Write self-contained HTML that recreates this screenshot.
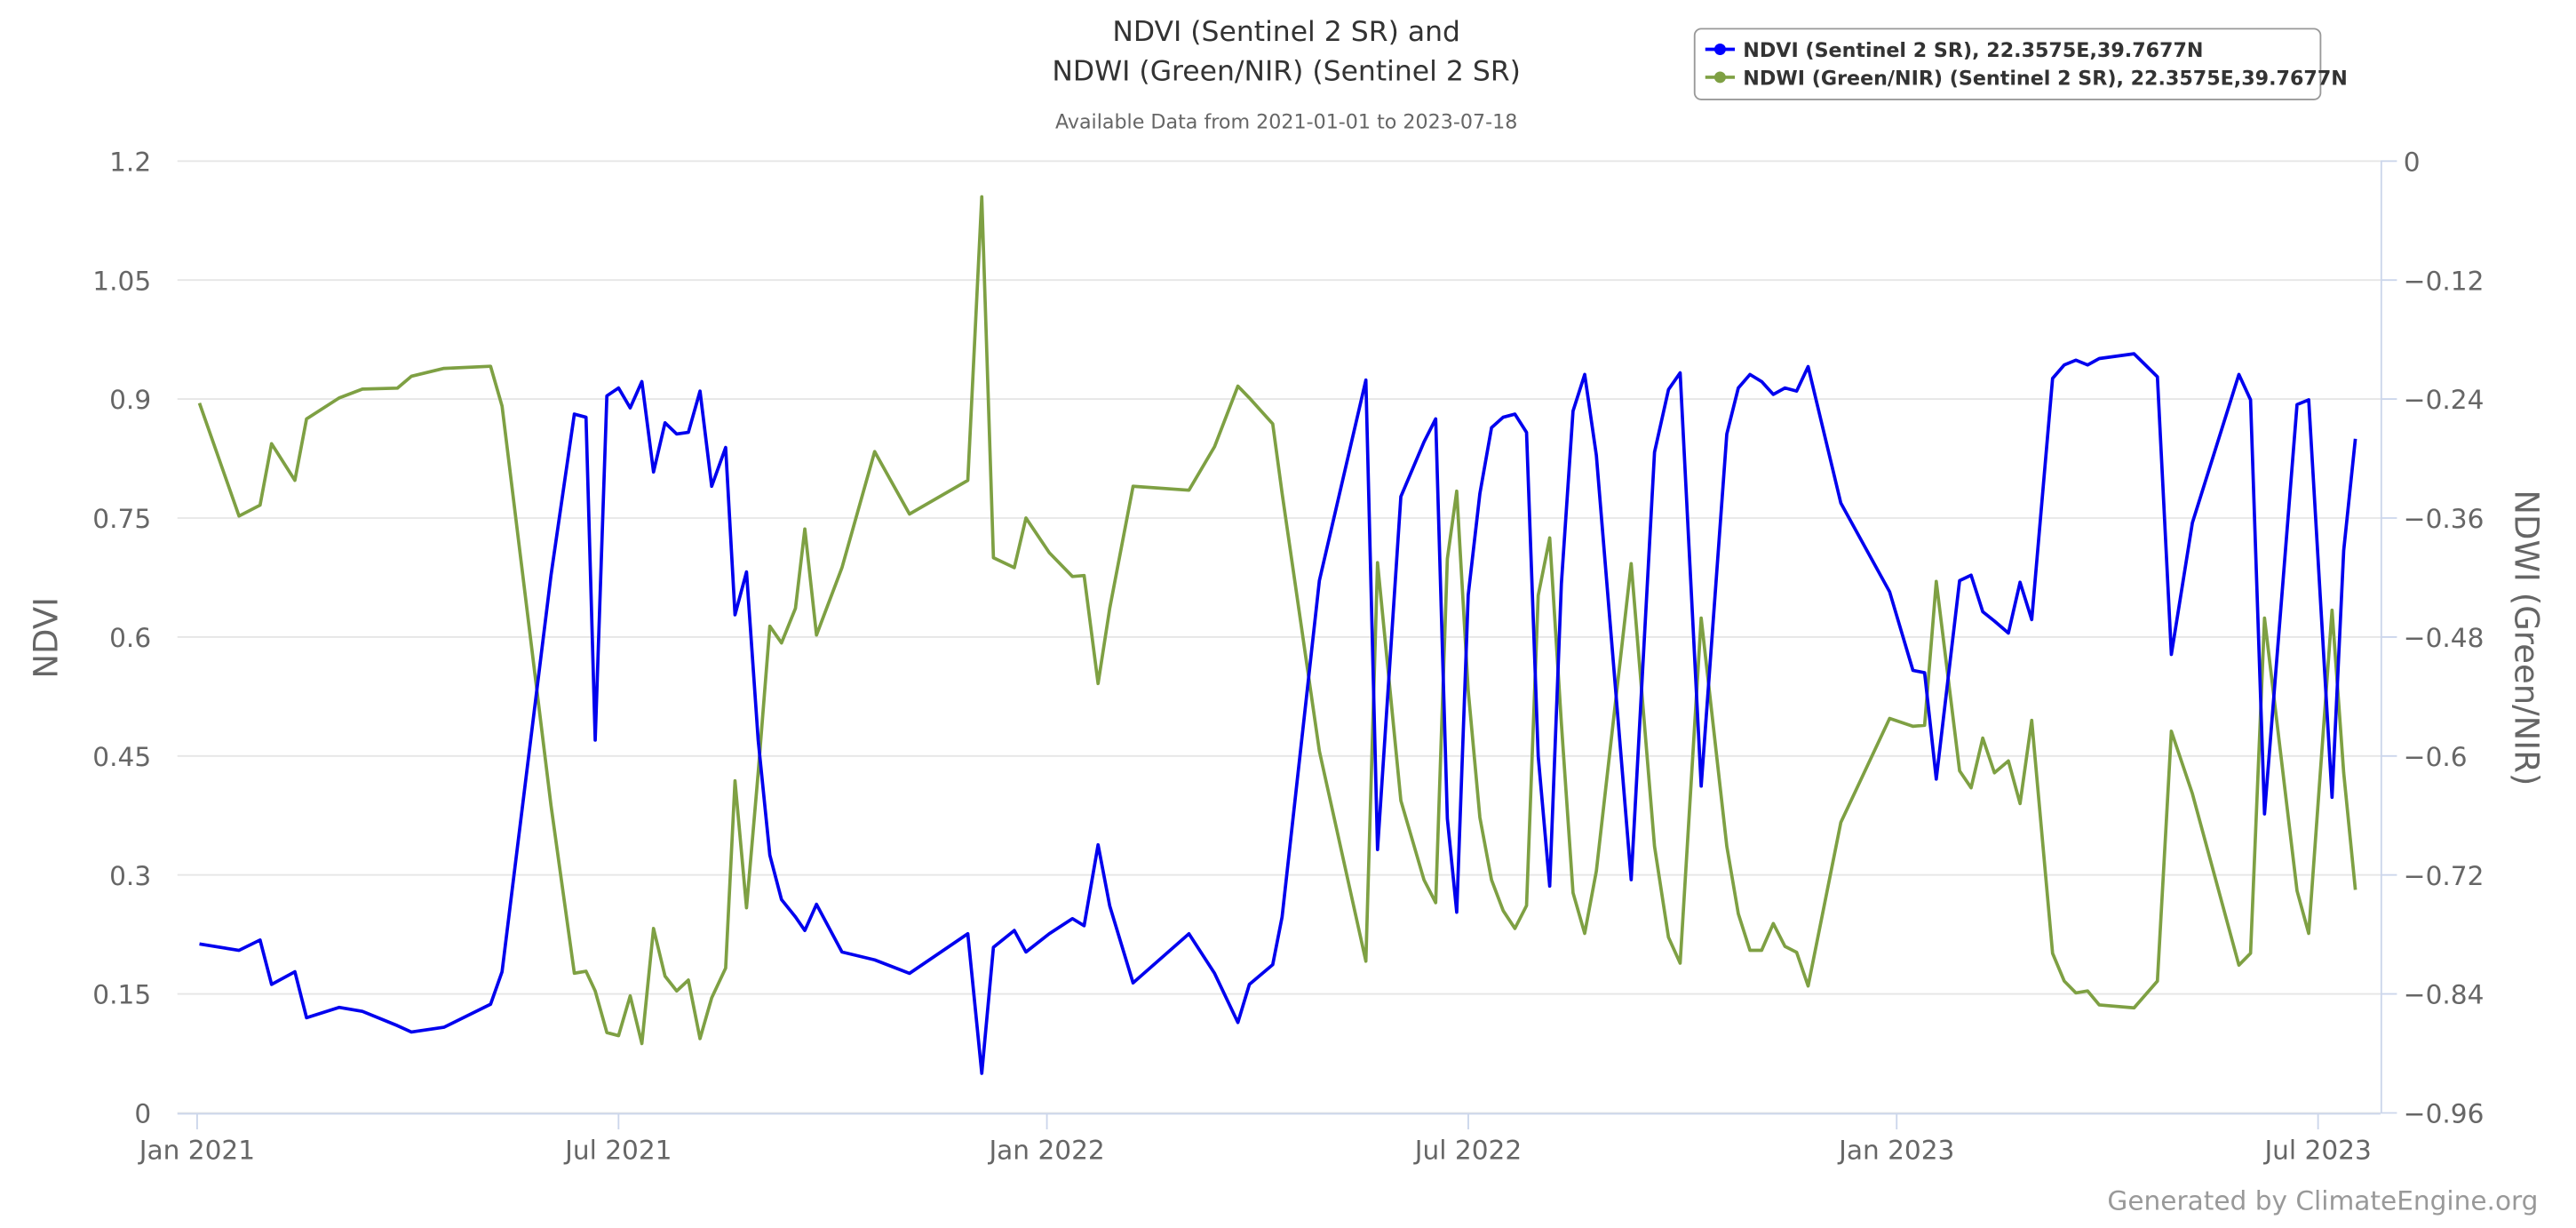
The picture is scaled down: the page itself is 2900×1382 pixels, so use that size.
<!DOCTYPE html>
<html><head><meta charset="utf-8"><style>
html,body{margin:0;padding:0;background:#fff;}
svg{display:block;font-family:"DejaVu Sans","Liberation Sans",sans-serif;}
</style></head><body>
<svg id="chart" width="2900" height="1382" viewBox="0 0 1568 747" preserveAspectRatio="none" xmlns="http://www.w3.org/2000/svg">
<rect width="1568" height="747" fill="#fff"/>
<text x="783" y="25" text-anchor="middle" font-size="17" fill="#333">NDVI (Sentinel 2 SR) and</text>
<text x="783" y="49" text-anchor="middle" font-size="17" fill="#333">NDWI (Green/NIR) (Sentinel 2 SR)</text>
<text x="783" y="78" text-anchor="middle" font-size="12" fill="#666">Available Data from 2021-01-01 to 2023-07-18</text>
<g>
<rect x="1031.5" y="17.5" width="381" height="43" rx="4" fill="#fff" stroke="#999"/>
<g><line x1="1038" y1="30" x2="1056" y2="30" stroke="#0000ff" stroke-width="2"/><circle cx="1047" cy="30" r="3.5" fill="#0000ff"/><text x="1061" y="34.5" font-size="12" font-weight="bold" fill="#333">NDVI (Sentinel 2 SR), 22.3575E,39.7677N</text></g>
<g><line x1="1038" y1="47" x2="1056" y2="47" stroke="#7ea043" stroke-width="2"/><circle cx="1047" cy="47" r="3.5" fill="#7ea043"/><text x="1061" y="51.5" font-size="12" font-weight="bold" fill="#333">NDWI (Green/NIR) (Sentinel 2 SR), 22.3575E,39.7677N</text></g>
</g>
<g id="grid"></g><g id="axes"></g><g id="series"></g>
<text transform="translate(35,388) rotate(-90)" text-anchor="middle" font-size="20" fill="#666">NDVI</text>
<text transform="translate(1531,388) rotate(90)" text-anchor="middle" font-size="20" fill="#666">NDWI (Green/NIR)</text>
<text x="1545" y="736" text-anchor="end" font-size="16" fill="#999">Generated by ClimateEngine.org</text>
</svg>
<script>
const days=[1,18,27,32,42,47,61,71,86,92,106,126,131,152,162,167,171,176,181,186,191,196,201,206,211,216,221,227,231,236,241,246,251,257,261,266,277,291,306,331,337,342,351,356,366,376,381,387,392,402,426,437,447,452,462,466,482,502,507,517,527,532,537,541,546,551,556,561,566,571,576,581,586,591,596,601,616,626,632,637,646,657,662,667,672,677,682,687,692,706,727,737,742,747,757,762,767,772,778,783,788,797,802,807,812,817,832,842,848,857,877,882,888,902,907,917,922,927];
const ndvi=[0.213,0.205,0.218,0.162,0.178,0.120,0.133,0.128,0.110,0.102,0.108,0.137,0.178,0.678,0.881,0.877,0.470,0.904,0.914,0.889,0.922,0.808,0.870,0.856,0.858,0.910,0.790,0.839,0.628,0.682,0.470,0.325,0.269,0.247,0.230,0.263,0.203,0.193,0.176,0.226,0.050,0.209,0.230,0.203,0.226,0.245,0.236,0.338,0.261,0.164,0.226,0.176,0.114,0.162,0.187,0.247,0.671,0.924,0.332,0.777,0.846,0.875,0.371,0.253,0.653,0.781,0.864,0.877,0.881,0.858,0.450,0.286,0.667,0.885,0.931,0.829,0.294,0.833,0.912,0.933,0.412,0.856,0.914,0.931,0.922,0.906,0.914,0.910,0.941,0.769,0.657,0.558,0.555,0.421,0.671,0.678,0.632,0.620,0.605,0.669,0.622,0.926,0.943,0.949,0.943,0.951,0.957,0.928,0.578,0.744,0.931,0.899,0.377,0.893,0.899,0.398,0.709,0.850];
const ndwi=[-0.244,-0.358,-0.347,-0.285,-0.322,-0.260,-0.239,-0.230,-0.229,-0.217,-0.209,-0.207,-0.247,-0.650,-0.819,-0.817,-0.837,-0.879,-0.882,-0.842,-0.890,-0.774,-0.822,-0.837,-0.826,-0.885,-0.844,-0.814,-0.625,-0.753,-0.617,-0.469,-0.486,-0.451,-0.371,-0.478,-0.410,-0.293,-0.356,-0.322,-0.036,-0.400,-0.410,-0.360,-0.395,-0.419,-0.418,-0.527,-0.451,-0.328,-0.332,-0.288,-0.227,-0.239,-0.265,-0.335,-0.595,-0.807,-0.405,-0.645,-0.725,-0.748,-0.401,-0.333,-0.534,-0.662,-0.725,-0.756,-0.774,-0.751,-0.438,-0.380,-0.567,-0.738,-0.779,-0.716,-0.406,-0.691,-0.783,-0.809,-0.461,-0.691,-0.759,-0.796,-0.796,-0.769,-0.792,-0.798,-0.832,-0.667,-0.562,-0.570,-0.569,-0.424,-0.615,-0.632,-0.582,-0.617,-0.605,-0.648,-0.564,-0.799,-0.827,-0.839,-0.837,-0.851,-0.854,-0.827,-0.575,-0.638,-0.811,-0.799,-0.461,-0.736,-0.779,-0.453,-0.617,-0.735];
const leftTicks=["0","0.15","0.3","0.45","0.6","0.75","0.9","1.05","1.2"];
const rightTicks=["-0.96","-0.84","-0.72","-0.6","-0.48","-0.36","-0.24","-0.12","0"];
const xTickLabels=["Jan 2021","Jul 2021","Jan 2022","Jul 2022","Jan 2023","Jul 2023"];
const xTickDays=[0,181,365,546,730,911];

const NS="http://www.w3.org/2000/svg";
const L=108,R=1449,T=98,B=677,X0=120,PXD=(1411-120)/911;
const xs=d=>X0+d*PXD;
const yl=v=>B-(v/1.2)*(B-T);
const yr=v=>T+(-v/0.96)*(B-T);
function mk(tag,attrs,parent){const e=document.createElementNS(NS,tag);for(const k in attrs)e.setAttribute(k,attrs[k]);parent.appendChild(e);return e;}
const grid=document.getElementById('grid'),axes=document.getElementById('axes'),series=document.getElementById('series');
leftTicks.forEach((t,i)=>{
  const v=parseFloat(t),y=yl(v);
  const g=mk('line',{x1:L,x2:R,y1:y,y2:y,stroke:'#e6e6e6','stroke-width':1},grid);
  
  
  const tx=mk('text',{x:92,y:y+6,'text-anchor':'end','font-size':16,fill:'#666'},axes);tx.textContent=t;
  
  
});
rightTicks.forEach(t=>{
  const y=yr(parseFloat(t));
  const tk=mk('line',{x1:R,x2:R+10,y1:y,y2:y,stroke:'#ccd6eb'},axes);
  
  
  const tx=mk('text',{x:1463,y:y+6,'font-size':16,fill:'#666'},axes);tx.textContent=t.replace('-','\u2212');
  
  
});
const xa=mk('line',{x1:L,x2:R,y1:B+0.5,y2:B+0.5,stroke:'#ccd6eb'},axes);


const ra=mk('line',{x1:R+0.5,x2:R+0.5,y1:T,y2:B,stroke:'#ccd6eb'},axes);


xTickDays.forEach((d,i)=>{
  const x=xs(d);
  const tk=mk('line',{x1:x,x2:x,y1:B,y2:B+10,stroke:'#ccd6eb'},axes);
  
  
  const tx=mk('text',{x:x,y:B+28,'text-anchor':'middle','font-size':16,fill:'#666'},axes);tx.textContent=xTickLabels[i];
  
  
});
const pG=days.map((d,i)=>xs(d).toFixed(1)+','+yr(ndwi[i]).toFixed(1)).join(' ');
const lg=mk('polyline',{points:pG,fill:'none',stroke:'#7ea043','stroke-width':2,'stroke-linejoin':'round'},series);


const pB=days.map((d,i)=>xs(d).toFixed(1)+','+yl(ndvi[i]).toFixed(1)).join(' ');
const lb=mk('polyline',{points:pB,fill:'none',stroke:'#0000ee','stroke-width':2,'stroke-linejoin':'round'},series);


</script>
</body></html>
